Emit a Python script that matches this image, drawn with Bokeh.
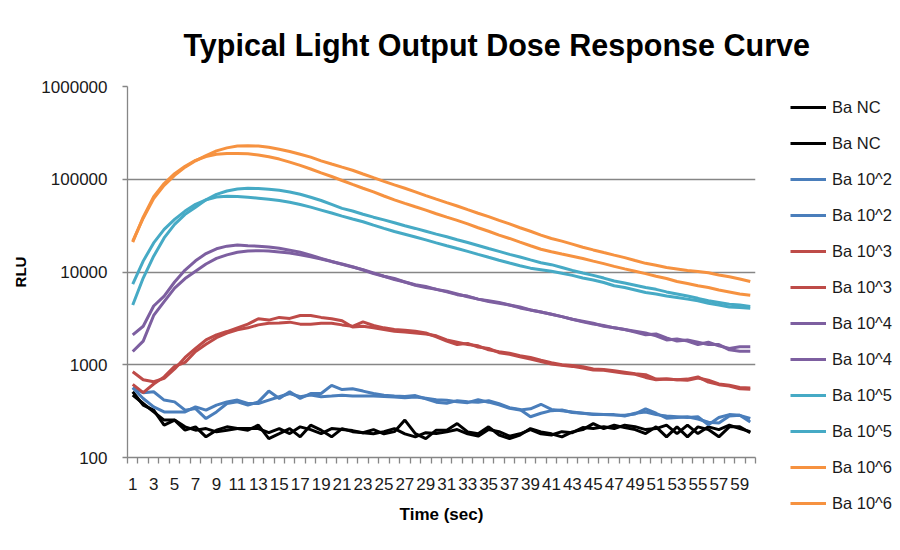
from bokeh.plotting import figure
from bokeh.models import FixedTicker, PrintfTickFormatter, Legend, LegendItem
from bokeh.embed import file_html
from bokeh.resources import INLINE

time_sec = list(range(1, 61))

ba_nc_a = [512, 367, 324, 223, 253, 197, 214, 167, 197, 214, 205, 197, 223, 160, 181, 205, 167, 223, 197, 167,
           205, 190, 185, 200, 180, 190, 253, 181, 160, 197, 197, 232, 189, 180, 214, 175, 160, 175, 205, 189,
           180, 167, 189, 200, 232, 205, 223, 210, 200, 181, 214, 167, 214, 167, 214, 200, 167, 214, 214, 185]
ba_nc_b = [471, 382, 310, 253, 253, 214, 197, 205, 189, 197, 205, 205, 205, 185, 205, 181, 214, 200, 181, 205,
           200, 195, 185, 180, 190, 205, 180, 167, 185, 181, 189, 200, 180, 170, 200, 190, 170, 180, 200, 180,
           175, 190, 185, 210, 205, 215, 205, 223, 215, 200, 205, 223, 181, 223, 181, 214, 200, 223, 205, 190]
ba_e2_a = [565, 500, 512, 416, 398, 324, 337, 263, 310, 382, 398, 367, 398, 520, 433, 512, 433, 490, 490, 600,
           540, 550, 520, 490, 470, 460, 455, 465, 430, 395, 385, 410, 400, 395, 410, 380, 345, 330, 275, 300,
           320, 325, 305, 300, 295, 290, 287, 285, 295, 335, 300, 265, 270, 275, 260, 240, 235, 280, 285, 242]
ba_e2_b = [565, 433, 352, 310, 310, 310, 352, 324, 367, 398, 416, 382, 382, 416, 452, 490, 452, 471, 452, 460,
           470, 460, 460, 460, 455, 450, 440, 450, 435, 420, 415, 400, 390, 420, 395, 370, 340, 325, 335, 375,
           330, 320, 310, 300, 290, 290, 290, 280, 300, 310, 290, 280, 275, 270, 275, 225, 270, 290, 285, 263]
ba_e3_a = [840, 690, 655, 713, 900, 1200, 1500, 1850, 2100, 2280, 2500, 2740, 3130, 3030, 3240, 3160, 3400, 3400, 3240, 3130,
           2980, 2550, 2600, 2500, 2400, 2300, 2250, 2200, 2150, 2050, 1850, 1750, 1650, 1600, 1450, 1380, 1330, 1250, 1200, 1120,
           1050, 1000, 980, 950, 900, 890, 860, 830, 800, 780, 700, 700, 690, 680, 720, 680, 620, 600, 570, 560]
ba_e3_b = [614, 500, 620, 740, 960, 1060, 1390, 1660, 1960, 2190, 2380, 2500, 2690, 2800, 2820, 2880, 2740, 2740, 2800, 2800,
           2690, 2600, 2900, 2650, 2500, 2400, 2350, 2300, 2200, 2000, 1800, 1650, 1700, 1550, 1500, 1350, 1300, 1220, 1150, 1080,
           1020, 990, 960, 920, 880, 870, 840, 810, 790, 730, 690, 700, 690, 700, 740, 650, 610, 590, 550, 545]
ba_e4_a = [2100, 2600, 4300, 5500, 7800, 10500, 13200, 15800, 17800, 19000, 19600, 19200, 19000, 18600, 18000, 17200, 16300, 15200, 14000, 13000,
           12200, 11400, 10500, 9600, 9000, 8500, 7800, 7300, 7000, 6500, 6200, 5800, 5400, 5100, 4900, 4700, 4400, 4200, 3900, 3700,
           3500, 3300, 3100, 2900, 2750, 2650, 2500, 2400, 2300, 2200, 2050, 1850, 1900, 1800, 1650, 1750, 1600, 1500, 1560, 1560]
ba_e4_b = [1390, 1800, 3400, 4800, 6700, 8500, 10200, 12200, 14000, 15300, 16300, 16800, 17000, 16800, 16400, 16000, 15300, 14600, 13800, 13000,
           12100, 11300, 10600, 9800, 9000, 8300, 7800, 7200, 6800, 6500, 6100, 5700, 5500, 5100, 4800, 4600, 4400, 4100, 3900, 3700,
           3500, 3300, 3100, 2950, 2800, 2600, 2500, 2400, 2250, 2100, 2150, 1950, 1800, 1850, 1750, 1650, 1650, 1450, 1400, 1400]
ba_e5_a = [4400, 8600, 14800, 23300, 32600, 41800, 50000, 60000, 68800, 74700, 78500, 80000, 79500, 78000, 76000, 73000, 69000, 64000, 59000, 53500,
           48500, 45500, 42000, 39000, 36500, 34000, 31500, 29500, 27500, 25600, 24000, 22300, 20800, 19300, 17900, 16700, 15500, 14500, 13500, 12600,
           12000, 11200, 10400, 9750, 9200, 8600, 8000, 7600, 7200, 6800, 6500, 6100, 5800, 5500, 5200, 4900, 4700, 4500, 4400, 4260]
ba_e5_b = [7400, 13100, 20600, 28800, 36900, 45400, 53600, 60000, 64300, 65500, 65000, 64000, 62500, 61000, 59000, 56500, 53500, 50000, 46500, 43200,
           40000, 37300, 34800, 32000, 29500, 27300, 25500, 23800, 22200, 20600, 19200, 17900, 16700, 15500, 14400, 13400, 12500, 11700, 11000, 10600,
           10200, 9700, 9200, 8600, 8200, 7700, 7100, 6800, 6400, 6000, 5800, 5500, 5300, 5100, 4900, 4600, 4400, 4200, 4150, 4070]
ba_e6_a = [21500, 38000, 62000, 86000, 110000, 135000, 158000, 180000, 202000, 218000, 228000, 230000, 228000, 221000, 211000, 199000, 186000, 173000, 158000, 146000,
           135000, 125000, 114000, 104000, 95000, 87000, 80000, 73000, 66500, 61000, 56000, 51500, 47000, 43000, 39500, 36000, 33000, 30000, 27500, 25000,
           23000, 21500, 20000, 18500, 17300, 16200, 15200, 14300, 13300, 12400, 11800, 11200, 10800, 10400, 10100, 9800, 9300, 8900, 8400, 7900]
ba_e6_b = [21000, 39000, 65000, 90000, 115000, 138000, 160000, 176000, 186000, 190000, 190000, 188000, 183000, 175000, 165000, 153000, 141000, 129000, 117000, 107000,
           97000, 88000, 80000, 73000, 66000, 60000, 55000, 50500, 46500, 42500, 39000, 36000, 33000, 30000, 27500, 25000, 23000, 21000, 19200, 17600,
           16500, 15600, 14800, 14000, 13100, 12300, 11500, 10800, 10200, 9600, 9000, 8500, 7900, 7500, 7100, 6800, 6400, 6100, 5800, 5600]

series_names = ["Ba NC", "Ba NC", "Ba 10^2", "Ba 10^2", "Ba 10^3", "Ba 10^3",
                "Ba 10^4", "Ba 10^4", "Ba 10^5", "Ba 10^5", "Ba 10^6", "Ba 10^6"]
series_values = [ba_nc_a, ba_nc_b, ba_e2_a, ba_e2_b, ba_e3_a, ba_e3_b,
                 ba_e4_a, ba_e4_b, ba_e5_a, ba_e5_b, ba_e6_a, ba_e6_b]
series_colors = ["#000000", "#000000", "#4A7EBB", "#4A7EBB", "#BE4B48", "#BE4B48",
                 "#7D5FA0", "#7D5FA0", "#46AAC5", "#46AAC5", "#F69240", "#F69240"]
y_ticks = [100, 1000, 10000, 100000, 1000000]

FONT = "Liberation Sans"
GRAY = "#868686"

p = figure(frame_width=628, frame_height=371,
           x_range=(0.5, 60.5), y_range=(100, 1000000), y_axis_type="log",
           output_backend="svg", toolbar_location=None,
           min_border_left=127, min_border_top=86, min_border_bottom=80, min_border_right=140)
p.outline_line_color = None
p.background_fill_color = "white"
p.border_fill_color = "white"

p.title.text = "Typical Light Output Dose Response Curve"
p.title.text_font = FONT
p.title.text_font_size = "30.5px"
p.title.text_font_style = "bold"
p.title.text_color = "#000000"
p.title.align = "left"
p.title.offset = 56
p.title.standoff = 50

renderers = []
for name, vals, col in zip(series_names, series_values, series_colors):
    r = p.line(time_sec, vals, line_color=col, line_width=3)
    renderers.append(r)

xa = p.xaxis[0]
xa.ticker = FixedTicker(ticks=list(range(1, 61, 2)), minor_ticks=[i + 0.5 for i in range(0, 61)])
xa.axis_line_color = GRAY
xa.axis_line_width = 1.3
xa.major_tick_out = 0
xa.major_tick_in = 0
xa.minor_tick_out = 6
xa.minor_tick_in = 0
xa.minor_tick_line_color = GRAY
xa.minor_tick_line_width = 1.3
xa.major_label_text_font = FONT
xa.major_label_text_font_size = "17px"
xa.major_label_text_color = "#1a1a1a"
xa.major_label_standoff = 14
xa.axis_label = "Time (sec)"
xa.axis_label_text_font = FONT
xa.axis_label_text_font_size = "17px"
xa.axis_label_text_font_style = "bold"
xa.axis_label_text_color = "#000000"
xa.axis_label_standoff = 12

ya = p.yaxis[0]
ya.ticker = FixedTicker(ticks=y_ticks, minor_ticks=[])
ya.formatter = PrintfTickFormatter(format="%d")
ya.axis_line_color = GRAY
ya.axis_line_width = 1.3
ya.major_tick_out = 5
ya.major_tick_in = 0
ya.major_tick_line_color = GRAY
ya.major_tick_line_width = 1.3
ya.minor_tick_out = 0
ya.minor_tick_in = 0
ya.major_label_text_font = FONT
ya.major_label_text_font_size = "17px"
ya.major_label_text_color = "#1a1a1a"
ya.major_label_standoff = 15
ya.axis_label = "RLU"
ya.axis_label_text_font = FONT
ya.axis_label_text_font_size = "15px"
ya.axis_label_text_font_style = "bold"
ya.axis_label_text_color = "#000000"
ya.axis_label_standoff = 9

p.xgrid.visible = False
p.ygrid.grid_line_color = GRAY
p.ygrid.grid_line_width = 1.3
p.ygrid.grid_line_alpha = 1.0

items = [LegendItem(label=n, renderers=[r]) for n, r in zip(series_names, renderers)]
legend = Legend(items=items, location=(35, -56), orientation="vertical",
                glyph_width=36, glyph_height=20, label_height=20, spacing=16,
                label_standoff=6, padding=0, margin=0,
                label_text_font=FONT, label_text_font_size="16.5px", label_text_color="#1a1a1a",
                border_line_color=None, background_fill_alpha=0)
p.add_layout(legend, "right")

open("out.html", "w").write(file_html(p, INLINE))
